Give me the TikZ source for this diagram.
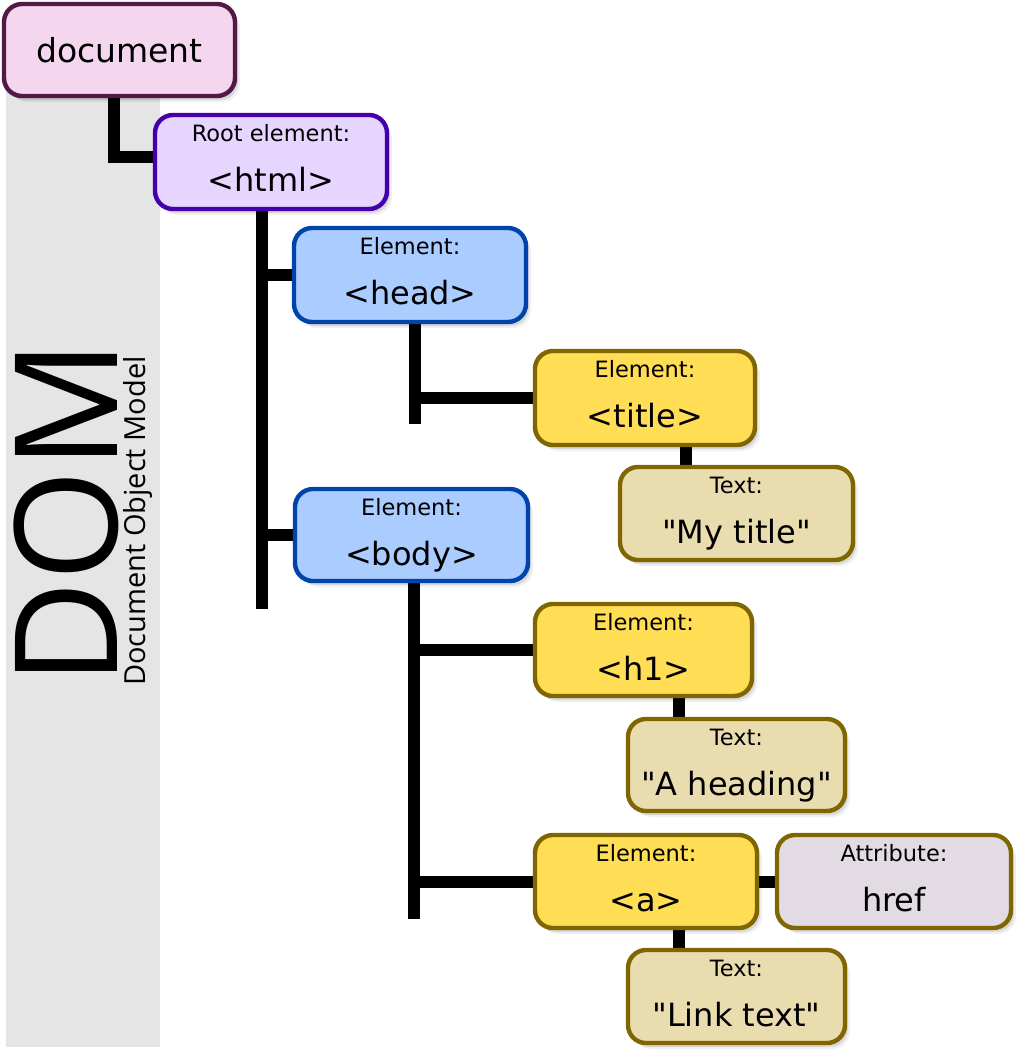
\documentclass[tikz,border=0pt]{standalone}
\usepackage{fontspec}
\setmainfont{DejaVu Sans}
\newfontfamily\osans{Open Sans}
\usetikzlibrary{shadows,backgrounds}
\font\qfont="DejaVu Sans" at 32pt
\newcommand\dq{{\qfont\char34}}
\definecolor{bandgray}{HTML}{E5E5E5}
\definecolor{docfill}{HTML}{F4D7EE}
\definecolor{docline}{HTML}{521846}
\definecolor{rootfill}{HTML}{E5D5FF}
\definecolor{rootline}{HTML}{4400AA}
\definecolor{elblue}{HTML}{AACCFF}
\definecolor{elblueline}{HTML}{0044AA}
\definecolor{elyellow}{HTML}{FFDD55}
\definecolor{ochre}{HTML}{806600}
\definecolor{textfill}{HTML}{E9DDAF}
\definecolor{attrfill}{HTML}{E3DBE3}
\tikzset{
  dombox/.style={draw, line width=4.4pt, rounded corners=18pt, inner sep=0pt,
    general shadow={shadow xshift=5pt, shadow yshift=-6pt, opacity=0.06, fill=black},
    general shadow={shadow xshift=3pt, shadow yshift=-4pt, opacity=0.10, fill=black}},
  docbox/.style={dombox, fill=docfill, draw=docline},
  rootbox/.style={dombox, fill=rootfill, draw=rootline},
  bluebox/.style={dombox, fill=elblue, draw=elblueline},
  yellowbox/.style={dombox, fill=elyellow, draw=ochre},
  textbox/.style={dombox, fill=textfill, draw=ochre},
  attrbox/.style={dombox, fill=attrfill, draw=ochre},
  lab/.style={inner sep=0pt, anchor=base, font=\fontsize{22.5}{26}\selectfont},
  big/.style={inner sep=0pt, anchor=base, font=\fontsize{32}{38}\selectfont},
  conn/.style={line width=12pt, line cap=butt, line join=miter, draw=black},
}
\newcommand\domtexts[3]{%
  \node[lab] (#1-l) at ([yshift=-29pt]#1.north) {#2};
  \node[big] (#1-t) at ([yshift=-79pt]#1.north) {#3};
}
\begin{document}
\begin{tikzpicture}[x=1pt,y=-1pt]
\useasboundingbox (0,0) rectangle (1024,1060);

% boxes
\node[docbox, minimum width=231pt, minimum height=92pt,
      font=\fontsize{33}{38}\selectfont] (document) at (119.5,50) {document};
\node[rootbox, minimum width=232pt, minimum height=94pt] (html) at (271,162) {};
\domtexts{html}{Root element:}{<html>}
\node[bluebox, minimum width=232pt, minimum height=94pt] (head) at (410,275) {};
\domtexts{head}{Element:}{<head>}
\node[bluebox, minimum width=233pt, minimum height=92pt] (body) at (411.5,535) {};
\domtexts{body}{Element:}{<body>}
\node[yellowbox, minimum width=220pt, minimum height=94pt] (title) at (645,398) {};
\domtexts{title}{Element:}{<title>}
\node[textbox, minimum width=233pt, minimum height=93pt] (mytitle) at (736.5,513.5) {};
\domtexts{mytitle}{Text:}{\dq My title\dq}
\node[yellowbox, minimum width=217pt, minimum height=92pt] (h1) at (643.5,650) {};
\domtexts{h1}{Element:}{<h1>}
\node[textbox, minimum width=217pt, minimum height=92pt] (heading) at (736.5,765) {};
\domtexts{heading}{Text:}{\dq A heading\dq}
\node[yellowbox, minimum width=222pt, minimum height=93pt] (a) at (646,881.5) {};
\domtexts{a}{Element:}{<a>}
\node[attrbox, minimum width=234pt, minimum height=93pt] (href) at (894,881.5) {};
\domtexts{href}{Attribute:}{href}
\node[textbox, minimum width=217pt, minimum height=93pt] (link) at (736.5,996.5) {};
\domtexts{link}{Text:}{\dq Link text\dq}

% side title
\node[inner sep=0pt, anchor=base, rotate=90, font=\osans\fontsize{143}{150}\selectfont]
  (dom) at (117,513) {DOM};
\node[inner sep=0pt, anchor=base, rotate=90, font=\osans\fontsize{29}{32}\selectfont]
  (dommodel) at (145,521) {Document Object Model};

% connector coordinates
\coordinate (doccorner) at (114,157);
\coordinate (htmlend) at (262,609);
\coordinate (headend) at (415,424);
\coordinate (bodyend) at (414,919);
\coordinate (titlex) at (686,0);
\coordinate (h1x) at (679,0);

\begin{pgfonlayer}{background}
  \fill[bandgray] (6,40) rectangle (160,1047);
  \draw[conn] (document.south -| doccorner) -- (doccorner) -- (doccorner -| html.west);
  \draw[conn] (html.south -| htmlend) -- (htmlend);
  \draw[conn] (head.west) -- (head.west -| htmlend);
  \draw[conn] (body.west) -- (body.west -| htmlend);
  \draw[conn] (head.south -| headend) -- (headend);
  \draw[conn] (title.west) -- (title.west -| headend);
  \draw[conn] (title.south -| titlex) -- (mytitle.north -| titlex);
  \draw[conn] (body.south -| bodyend) -- (bodyend);
  \draw[conn] (h1.west) -- (h1.west -| bodyend);
  \draw[conn] (a.west) -- (a.west -| bodyend);
  \draw[conn] (h1.south -| h1x) -- (heading.north -| h1x);
  \draw[conn] (a.south -| h1x) -- (link.north -| h1x);
  \draw[conn] (a.east) -- (href.west);
\end{pgfonlayer}
\end{tikzpicture}
\end{document}
